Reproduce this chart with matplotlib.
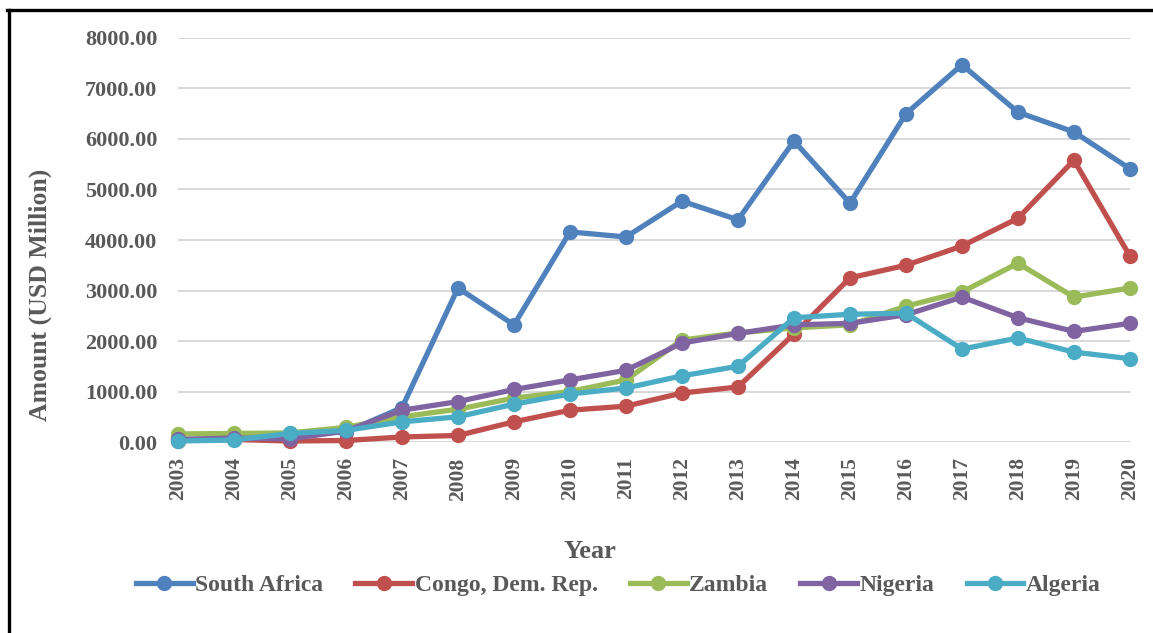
import matplotlib.pyplot as plt
from matplotlib.lines import Line2D

years = list(range(2003, 2021))

south_africa = [50, 60, 150, 200, 680, 3050, 2320, 4160, 4060, 4770, 4400,
                5960, 4730, 6500, 7470, 6530, 6140, 5410]
congo = [30, 50, 20, 30, 100, 130, 400, 630, 710, 970, 1090,
         2140, 3250, 3500, 3880, 4430, 5580, 3680]
zambia = [160, 170, 180, 290, 500, 650, 870, 1000, 1230, 2020, 2160,
          2260, 2320, 2690, 2970, 3540, 2870, 3050]
nigeria = [50, 80, 60, 220, 630, 800, 1040, 1230, 1420, 1960, 2150,
           2320, 2350, 2520, 2870, 2460, 2190, 2350]
algeria = [20, 40, 170, 230, 400, 500, 750, 950, 1070, 1310, 1500,
           2460, 2530, 2550, 1840, 2060, 1780, 1650]

names = ["South Africa", "Congo, Dem. Rep.", "Zambia", "Nigeria", "Algeria"]
series = [south_africa, congo, zambia, nigeria, algeria]
colors = ["#4F81BD", "#C0504D", "#9BBB59", "#8064A2", "#4BACC6"]

plt.rcParams['font.family'] = ['Liberation Serif', 'DejaVu Serif']
text_col = "#595959"

fig = plt.figure(figsize=(11.53, 6.33), dpi=100)
ax = fig.add_axes([0.1544, 0.3017, 0.8256, 0.6383])

for vals, c in zip(series, colors):
    ax.plot(years, vals, color=c, lw=3.8, marker="o", ms=10,
            solid_capstyle="round", solid_joinstyle="round", clip_on=False)

ax.set_xlim(2003, 2020)
ax.set_ylim(0, 8000)
ax.set_yticks(range(0, 8001, 1000))
ax.set_yticklabels(["%.2f" % v for v in range(0, 8001, 1000)])
ax.set_xticks(years)
ax.set_xticklabels([str(y) for y in years], rotation=90)
ax.grid(axis="y", color="#D9D9D9", lw=1.5)
ax.set_axisbelow(True)
for s in ax.spines.values():
    s.set_visible(False)
ax.tick_params(length=0, colors=text_col)
ax.tick_params(axis="y", labelsize=16, pad=15)
ax.tick_params(axis="x", labelsize=15.5, pad=11)
for lab in ax.get_xticklabels() + ax.get_yticklabels():
    lab.set_fontweight("bold")

fig.text(0.035, 0.534, "Amount (USD Million)", rotation=90, ha="center",
         va="center", fontsize=18.5, fontweight="bold", color=text_col)
fig.text(0.512, 0.1295, "Year", ha="center", va="center", fontsize=19,
         fontweight="bold", color=text_col)

handles = [Line2D([], [], color=c, lw=3.8, marker="o", ms=10) for c in colors]
leg = fig.legend(handles, names, loc="center", bbox_to_anchor=(0.5364, 0.0758),
                 ncol=5, frameon=False, handlelength=2.4, handletextpad=0.12,
                 columnspacing=1.35, prop={"size": 17, "weight": "bold"})
for t in leg.get_texts():
    t.set_color(text_col)

# border on the top and left edges
fig.add_artist(Line2D([0.0065, 1.0], [0.984, 0.984], color="black", lw=2.4,
                      transform=fig.transFigure))
fig.add_artist(Line2D([0.0075, 0.0075], [0.0, 0.984], color="black", lw=2.4,
                      transform=fig.transFigure))

fig.savefig("out.png", dpi=100)
